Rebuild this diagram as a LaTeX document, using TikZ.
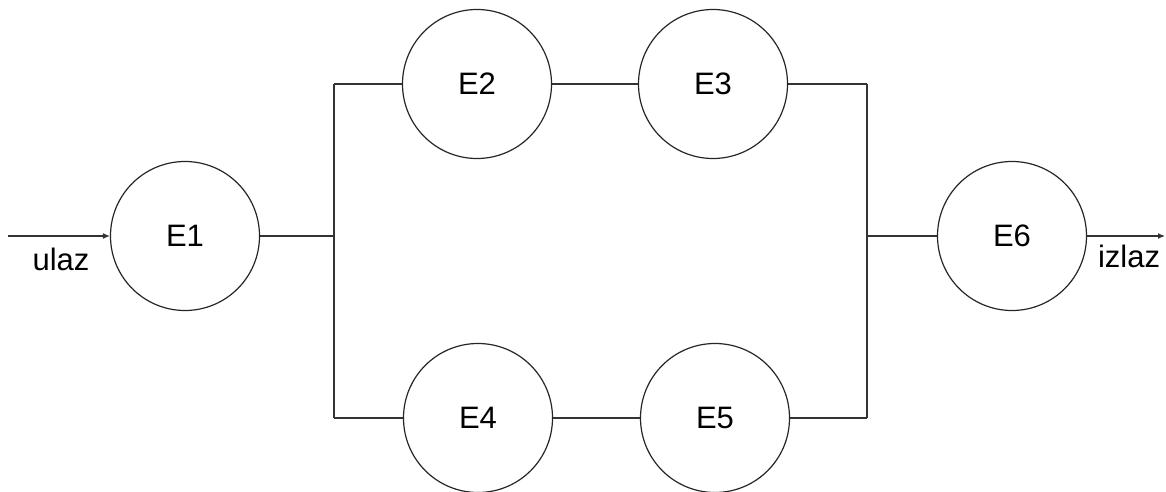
\documentclass[tikz,border=0pt]{standalone}
\usepackage{fontspec}
\setmainfont{Liberation Sans}
\usetikzlibrary{arrows.meta}
\begin{document}
\begin{tikzpicture}[x=1pt,y=-1pt,
  elem/.style={circle,draw=black!85,line width=1.2pt,minimum size=149pt,inner sep=0pt,
    font=\fontsize{31}{32}\selectfont},
  wire/.style={draw=black!80,line width=1.2pt},
  lbl/.style={font=\fontsize{31}{32}\selectfont,inner sep=0pt},
  arr/.style={wire,-{Latex[length=7pt,width=6pt]}}]
\useasboundingbox (0,0) rectangle (1166,492);
\node[elem] (E1) at (185,236) {\raisebox{-2pt}{E1}};
\node[elem] (E2) at (477,84) {\raisebox{-2pt}{E2}};
\node[elem] (E3) at (713,84) {\raisebox{-2pt}{E3}};
\node[elem] (E4) at (478,418) {\raisebox{-2pt}{E4}};
\node[elem] (E5) at (715,418) {\raisebox{-2pt}{E5}};
\node[elem] (E6) at (1012,236) {\raisebox{-2pt}{E6}};
\coordinate (in) at (8,236);
\coordinate (out) at (1165,236);
\coordinate (Lt) at (334,84);
\coordinate (Lm) at (334,236);
\coordinate (Lb) at (334,418);
\coordinate (Rt) at (867,84);
\coordinate (Rm) at (867,236);
\coordinate (Rb) at (867,418);
\draw[arr] (in) -- (E1);
\draw[wire] (E1) -- (Lm);
\draw[wire] (Lt) -- (Lb);
\draw[wire] (Lt) -- (E2);
\draw[wire] (E2) -- (E3);
\draw[wire] (E3) -- (Rt);
\draw[wire] (Lb) -- (E4);
\draw[wire] (E4) -- (E5);
\draw[wire] (E5) -- (Rb);
\draw[wire] (Rt) -- (Rb);
\draw[wire] (Rm) -- (E6);
\draw[arr] (E6) -- (out);
\node[lbl] (ulaz) at (61,259) {ulaz};
\node[lbl] (izlaz) at (1129,256) {izlaz};
\end{tikzpicture}
\end{document}
